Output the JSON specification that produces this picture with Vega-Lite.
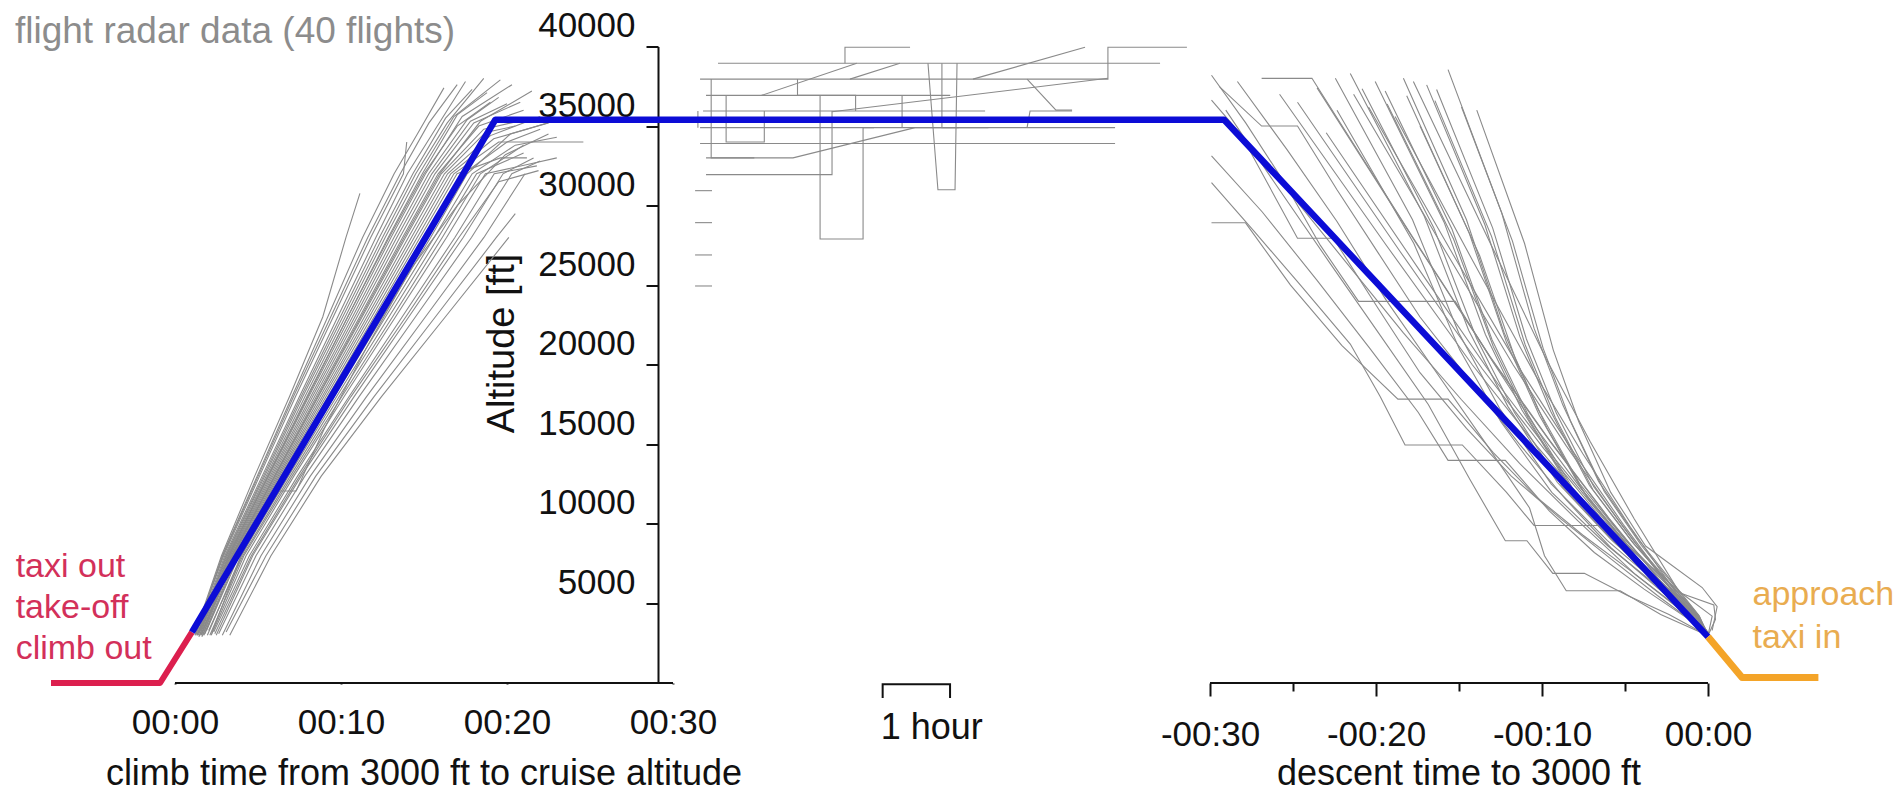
{
"$schema": "https://vega.github.io/schema/vega-lite/v6.json",
"width": 1901, "height": 636.5,
"autosize": {"type": "none"},
"padding": {"left": 0, "right": 0, "top": 46.5, "bottom": 110},
"background": "white",
"config": {"view": {"stroke": null}, "font": "Liberation Sans", "text": {"font": "Liberation Sans"}, "axis": {"labelFont": "Liberation Sans", "titleFont": "Liberation Sans"}},
"datasets": {
"flights": [
{"f":"c1","t":1.2,"a":3000},{"f":"c1","t":2.88,"a":8000},{"f":"c1","t":5.01,"a":13000},{"f":"c1","t":7.14,"a":18000},{"f":"c1","t":9.38,"a":23000},{"f":"c1","t":11.61,"a":28000},{"f":"c1","t":13.57,"a":32000},{"f":"c1","t":15.3,"a":35200},{"f":"c1","t":17.0,"a":37600},
{"f":"c2","t":1.23,"a":3200},{"f":"c2","t":2.93,"a":8000},{"f":"c2","t":5.09,"a":13000},{"f":"c2","t":7.26,"a":18000},{"f":"c2","t":9.53,"a":23000},{"f":"c2","t":11.79,"a":28000},{"f":"c2","t":13.76,"a":32000},{"f":"c2","t":13.96,"a":34000},
{"f":"c3","t":1.26,"a":3300},{"f":"c3","t":2.8,"a":8000},{"f":"c3","t":4.8,"a":13000},{"f":"c3","t":6.9,"a":18000},{"f":"c3","t":8.9,"a":23000},{"f":"c3","t":10.3,"a":28000},{"f":"c3","t":11.14,"a":30770},
{"f":"c4","t":1.32,"a":3000},{"f":"c4","t":3.06,"a":8000},{"f":"c4","t":5.33,"a":13000},{"f":"c4","t":7.6,"a":18000},{"f":"c4","t":9.96,"a":23000},{"f":"c4","t":12.31,"a":28000},{"f":"c4","t":14.33,"a":32000},{"f":"c4","t":16.3,"a":35500},{"f":"c4","t":17.9,"a":37300},
{"f":"c5","t":1.38,"a":3100},{"f":"c5","t":3.15,"a":8000},{"f":"c5","t":5.49,"a":13000},{"f":"c5","t":7.83,"a":18000},{"f":"c5","t":10.25,"a":23000},{"f":"c5","t":12.66,"a":28000},{"f":"c5","t":14.71,"a":32000},{"f":"c5","t":16.8,"a":35600},{"f":"c5","t":19.6,"a":37900},
{"f":"c6","t":1.44,"a":2900},{"f":"c6","t":3.24,"a":8000},{"f":"c6","t":5.65,"a":13000},{"f":"c6","t":8.06,"a":18000},{"f":"c6","t":10.54,"a":23000},{"f":"c6","t":13.01,"a":28000},{"f":"c6","t":15.09,"a":32000},{"f":"c6","t":17.3,"a":35600},{"f":"c6","t":20.3,"a":37600},
{"f":"c7","t":1.47,"a":3200},{"f":"c7","t":3.29,"a":8000},{"f":"c7","t":5.73,"a":13000},{"f":"c7","t":8.18,"a":18000},{"f":"c7","t":10.69,"a":23000},{"f":"c7","t":13.19,"a":28000},{"f":"c7","t":15.28,"a":32000},{"f":"c7","t":17.6,"a":35400},{"f":"c7","t":19.5,"a":36800},
{"f":"c8","t":1.5,"a":3000},{"f":"c8","t":3.33,"a":8000},{"f":"c8","t":5.81,"a":13000},{"f":"c8","t":8.29,"a":18000},{"f":"c8","t":10.83,"a":23000},{"f":"c8","t":13.36,"a":28000},{"f":"c8","t":15.47,"a":32000},{"f":"c8","t":17.8,"a":35300},{"f":"c8","t":20.0,"a":36400},
{"f":"c9","t":1.53,"a":3300},{"f":"c9","t":3.38,"a":8000},{"f":"c9","t":5.89,"a":13000},{"f":"c9","t":8.41,"a":18000},{"f":"c9","t":10.97,"a":23000},{"f":"c9","t":13.54,"a":28000},{"f":"c9","t":15.66,"a":32000},{"f":"c9","t":18.0,"a":35200},{"f":"c9","t":20.8,"a":36500},
{"f":"c10","t":1.56,"a":3000},{"f":"c10","t":3.42,"a":8000},{"f":"c10","t":5.97,"a":13000},{"f":"c10","t":8.52,"a":18000},{"f":"c10","t":11.12,"a":23000},{"f":"c10","t":13.71,"a":28000},{"f":"c10","t":15.85,"a":32000},{"f":"c10","t":18.3,"a":35000},{"f":"c10","t":21.0,"a":36000},
{"f":"c11","t":1.59,"a":3100},{"f":"c11","t":3.47,"a":8000},{"f":"c11","t":6.05,"a":13000},{"f":"c11","t":8.64,"a":18000},{"f":"c11","t":11.27,"a":23000},{"f":"c11","t":13.89,"a":28000},{"f":"c11","t":16.04,"a":32000},{"f":"c11","t":18.6,"a":34800},{"f":"c11","t":21.5,"a":35500},
{"f":"c12","t":1.62,"a":2900},{"f":"c12","t":3.51,"a":8000},{"f":"c12","t":6.13,"a":13000},{"f":"c12","t":8.75,"a":18000},{"f":"c12","t":11.41,"a":23000},{"f":"c12","t":14.06,"a":28000},{"f":"c12","t":16.23,"a":32000},{"f":"c12","t":18.7,"a":34600},{"f":"c12","t":20.5,"a":35000},
{"f":"c13","t":1.65,"a":3200},{"f":"c13","t":3.56,"a":8000},{"f":"c13","t":6.21,"a":13000},{"f":"c13","t":8.87,"a":18000},{"f":"c13","t":11.56,"a":23000},{"f":"c13","t":14.24,"a":28000},{"f":"c13","t":16.42,"a":32000},{"f":"c13","t":19.0,"a":34400},{"f":"c13","t":22.0,"a":35600},
{"f":"c14","t":1.68,"a":3000},{"f":"c14","t":3.6,"a":8000},{"f":"c14","t":6.29,"a":13000},{"f":"c14","t":8.98,"a":18000},{"f":"c14","t":11.7,"a":23000},{"f":"c14","t":14.41,"a":28000},{"f":"c14","t":16.61,"a":32000},{"f":"c14","t":19.2,"a":34200},{"f":"c14","t":22.5,"a":35200},
{"f":"c15","t":1.71,"a":3400},{"f":"c15","t":3.65,"a":8000},{"f":"c15","t":6.37,"a":13000},{"f":"c15","t":9.1,"a":18000},{"f":"c15","t":11.85,"a":23000},{"f":"c15","t":14.59,"a":28000},{"f":"c15","t":16.8,"a":32000},{"f":"c15","t":19.5,"a":34000},{"f":"c15","t":24.6,"a":34000},
{"f":"c16","t":1.74,"a":3000},{"f":"c16","t":3.69,"a":8000},{"f":"c16","t":6.45,"a":13000},{"f":"c16","t":9.21,"a":18000},{"f":"c16","t":11.99,"a":23000},{"f":"c16","t":14.76,"a":28000},{"f":"c16","t":16.99,"a":32000},{"f":"c16","t":19.6,"a":33000},{"f":"c16","t":21.2,"a":33000},
{"f":"c17","t":1.8,"a":3100},{"f":"c17","t":3.78,"a":8000},{"f":"c17","t":6.61,"a":13000},{"f":"c17","t":9.44,"a":18000},{"f":"c17","t":12.28,"a":23000},{"f":"c17","t":15.11,"a":28000},{"f":"c17","t":17.37,"a":32000},{"f":"c17","t":20.0,"a":34000},{"f":"c17","t":22.0,"a":34800},
{"f":"c18","t":1.95,"a":3000},{"f":"c18","t":3.98,"a":8000},{"f":"c18","t":6.83,"a":13000},{"f":"c18","t":9.74,"a":18000},{"f":"c18","t":12.68,"a":23000},{"f":"c18","t":15.61,"a":28000},{"f":"c18","t":17.9,"a":32000},{"f":"c18","t":20.5,"a":33800},{"f":"c18","t":23.0,"a":34300},
{"f":"c19","t":2.03,"a":3300},{"f":"c19","t":4.08,"a":8000},{"f":"c19","t":6.94,"a":13000},{"f":"c19","t":9.89,"a":18000},{"f":"c19","t":12.88,"a":23000},{"f":"c19","t":15.86,"a":28000},{"f":"c19","t":18.17,"a":32000},{"f":"c19","t":21.0,"a":33300},
{"f":"c20","t":2.18,"a":3000},{"f":"c20","t":4.28,"a":8000},{"f":"c20","t":7.16,"a":13000},{"f":"c20","t":10.19,"a":18000},{"f":"c20","t":13.28,"a":23000},{"f":"c20","t":16.36,"a":28000},{"f":"c20","t":18.7,"a":32000},{"f":"c20","t":21.3,"a":32600},{"f":"c20","t":23.0,"a":33000},
{"f":"c21","t":2.33,"a":3200},{"f":"c21","t":4.48,"a":8000},{"f":"c21","t":7.38,"a":13000},{"f":"c21","t":10.49,"a":18000},{"f":"c21","t":13.68,"a":23000},{"f":"c21","t":16.86,"a":28000},{"f":"c21","t":19.23,"a":32000},{"f":"c21","t":21.8,"a":32500},
{"f":"c22","t":2.48,"a":3000},{"f":"c22","t":4.68,"a":8000},{"f":"c22","t":7.6,"a":13000},{"f":"c22","t":10.79,"a":18000},{"f":"c22","t":14.08,"a":23000},{"f":"c22","t":17.36,"a":28000},{"f":"c22","t":19.76,"a":32000},{"f":"c22","t":21.6,"a":33000},
{"f":"c23","t":2.63,"a":3100},{"f":"c23","t":4.88,"a":8000},{"f":"c23","t":7.82,"a":13000},{"f":"c23","t":11.09,"a":18000},{"f":"c23","t":14.48,"a":23000},{"f":"c23","t":17.86,"a":28000},{"f":"c23","t":20.29,"a":32000},{"f":"c23","t":22.0,"a":32800},
{"f":"c24","t":2.85,"a":3000},{"f":"c24","t":5.18,"a":8000},{"f":"c24","t":8.15,"a":13000},{"f":"c24","t":11.54,"a":18000},{"f":"c24","t":15.08,"a":23000},{"f":"c24","t":18.61,"a":28000},{"f":"c24","t":21.08,"a":32000},
{"f":"c25","t":3.08,"a":3200},{"f":"c25","t":5.48,"a":8000},{"f":"c25","t":8.48,"a":13000},{"f":"c25","t":11.99,"a":18000},{"f":"c25","t":15.68,"a":23000},{"f":"c25","t":19.36,"a":28000},{"f":"c25","t":20.5,"a":29500},
{"f":"c26","t":3.3,"a":3000},{"f":"c26","t":5.78,"a":8000},{"f":"c26","t":8.81,"a":13000},{"f":"c26","t":12.44,"a":18000},{"f":"c26","t":16.28,"a":23000},{"f":"c26","t":20.11,"a":28000},
{"f":"c27","t":2.2,"a":3100},{"f":"c27","t":4.0,"a":8000},{"f":"c27","t":5.6,"a":11000},{"f":"c27","t":6.3,"a":12066},{"f":"c27","t":7.3,"a":12066},{"f":"c27","t":9.0,"a":16000},{"f":"c27","t":11.5,"a":21000},{"f":"c27","t":14.2,"a":26000},{"f":"c27","t":17.0,"a":30000},{"f":"c27","t":19.9,"a":33200},{"f":"c27","t":22.5,"a":34500},
{"f":"c28","t":1.41,"a":3000},{"f":"c28","t":3.2,"a":8000},{"f":"c28","t":5.57,"a":13000},{"f":"c28","t":7.95,"a":18000},{"f":"c28","t":10.4,"a":23000},{"f":"c28","t":12.84,"a":28000},{"f":"c28","t":14.9,"a":32000},{"f":"c28","t":17.0,"a":35700},{"f":"c28","t":18.8,"a":37100},
{"f":"c29","t":1.29,"a":3100},{"f":"c29","t":3.0,"a":8000},{"f":"c29","t":5.25,"a":13000},{"f":"c29","t":7.5,"a":18000},{"f":"c29","t":9.8,"a":23000},{"f":"c29","t":12.1,"a":28000},{"f":"c29","t":14.0,"a":32000},{"f":"c29","t":15.8,"a":35000},{"f":"c29","t":17.5,"a":37800},
{"f":"c30","t":1.35,"a":3000},{"f":"c30","t":3.1,"a":8000},{"f":"c30","t":5.4,"a":13000},{"f":"c30","t":7.7,"a":18000},{"f":"c30","t":10.1,"a":23000},{"f":"c30","t":12.5,"a":28000},{"f":"c30","t":14.5,"a":32000},{"f":"c30","t":16.4,"a":35200},{"f":"c30","t":18.6,"a":38000},
{"f":"c31","t":1.45,"a":3200},{"f":"c31","t":3.25,"a":8000},{"f":"c31","t":5.6,"a":13000},{"f":"c31","t":8.0,"a":18000},{"f":"c31","t":10.4,"a":23000},{"f":"c31","t":12.9,"a":28000},{"f":"c31","t":15.0,"a":32000},{"f":"c31","t":17.0,"a":35000},{"f":"c31","t":19.0,"a":36500},
{"f":"c32","t":1.6,"a":3000},{"f":"c32","t":3.45,"a":8000},{"f":"c32","t":6.0,"a":13000},{"f":"c32","t":8.6,"a":18000},{"f":"c32","t":11.2,"a":23000},{"f":"c32","t":13.8,"a":28000},{"f":"c32","t":15.95,"a":32000},{"f":"c32","t":18.4,"a":35300},{"f":"c32","t":21.5,"a":37200},
{"f":"c33","t":1.9,"a":3300},{"f":"c33","t":3.85,"a":8000},{"f":"c33","t":6.7,"a":13000},{"f":"c33","t":9.6,"a":18000},{"f":"c33","t":12.5,"a":23000},{"f":"c33","t":15.4,"a":28000},{"f":"c33","t":17.6,"a":32000},{"f":"c33","t":20.2,"a":34500},{"f":"c33","t":22.8,"a":35300},
{"f":"c34","t":2.1,"a":3000},{"f":"c34","t":4.15,"a":8000},{"f":"c34","t":7.05,"a":13000},{"f":"c34","t":10.05,"a":18000},{"f":"c34","t":13.1,"a":23000},{"f":"c34","t":16.1,"a":28000},{"f":"c34","t":18.4,"a":32000},{"f":"c34","t":21.0,"a":33800},
{"f":"c35","t":2.4,"a":3100},{"f":"c35","t":4.6,"a":8000},{"f":"c35","t":7.5,"a":13000},{"f":"c35","t":10.6,"a":18000},{"f":"c35","t":13.9,"a":23000},{"f":"c35","t":17.1,"a":28000},{"f":"c35","t":19.5,"a":31500},{"f":"c35","t":21.9,"a":32200},
{"f":"c36","t":1.25,"a":3000},{"f":"c36","t":2.85,"a":8000},{"f":"c36","t":4.95,"a":13000},{"f":"c36","t":7.05,"a":18000},{"f":"c36","t":9.2,"a":23000},{"f":"c36","t":11.3,"a":28000},{"f":"c36","t":13.2,"a":32000},{"f":"c36","t":14.6,"a":34500},{"f":"c36","t":16.2,"a":37400},
{"f":"k1","t":40.36,"a":38950},{"f":"k1","t":40.36,"a":39950},{"f":"k1","t":44.28,"a":39950},
{"f":"k2","t":32.71,"a":38950},{"f":"k2","t":59.34,"a":38950},
{"f":"k3","t":31.63,"a":37950},{"f":"k3","t":56.2,"a":37950},{"f":"k3","t":56.2,"a":39950},{"f":"k3","t":60.96,"a":39950},
{"f":"k4","t":35.34,"a":36930},{"f":"k4","t":41.07,"a":38950},
{"f":"k5","t":40.66,"a":37950},{"f":"k5","t":43.67,"a":38950},
{"f":"k6","t":48.07,"a":37950},{"f":"k6","t":54.82,"a":39950},
{"f":"k7","t":31.81,"a":35950},{"f":"k7","t":48.8,"a":35950},
{"f":"k8","t":51.33,"a":34900},{"f":"k8","t":51.51,"a":35950},{"f":"k8","t":54.04,"a":35950},
{"f":"k9","t":31.63,"a":34900},{"f":"k9","t":56.63,"a":34900},
{"f":"k10","t":31.63,"a":33900},{"f":"k10","t":56.63,"a":33900},
{"f":"k11","t":31.99,"a":33000},{"f":"k11","t":37.23,"a":33000},{"f":"k11","t":44.58,"a":34900},{"f":"k11","t":49.0,"a":34900},
{"f":"k12","t":31.99,"a":31950},{"f":"k12","t":39.58,"a":31950},{"f":"k12","t":39.58,"a":35950},
{"f":"k13","t":38.86,"a":36930},{"f":"k13","t":38.86,"a":27900},{"f":"k13","t":41.45,"a":27900},{"f":"k13","t":41.45,"a":34900},{"f":"k13","t":42.11,"a":34900},
{"f":"k14","t":45.36,"a":38950},{"f":"k14","t":45.96,"a":31000},{"f":"k14","t":46.99,"a":31000},{"f":"k14","t":47.11,"a":38950},
{"f":"k15","t":39.58,"a":35900},{"f":"k15","t":56.2,"a":38000},
{"f":"k16","t":51.33,"a":37950},{"f":"k16","t":53.07,"a":36000},{"f":"k16","t":54.04,"a":36000},
{"f":"k17","t":32.3,"a":37950},{"f":"k17","t":32.3,"a":33000},{"f":"k17","t":34.9,"a":33000},
{"f":"k18","t":31.5,"a":35950},{"f":"k18","t":31.5,"a":34900},
{"f":"k19","t":33.2,"a":36930},{"f":"k19","t":33.2,"a":34000},{"f":"k19","t":35.5,"a":34000},{"f":"k19","t":35.5,"a":35950},
{"f":"k20","t":37.5,"a":37950},{"f":"k20","t":37.5,"a":36930},{"f":"k20","t":41.0,"a":36930},{"f":"k20","t":41.0,"a":35950},
{"f":"k21","t":43.8,"a":36930},{"f":"k21","t":43.8,"a":34900},
{"f":"k22","t":46.2,"a":38950},{"f":"k22","t":46.2,"a":34900},{"f":"k22","t":47.2,"a":34900},
{"f":"k23","t":31.99,"a":36930},{"f":"k23","t":46.7,"a":36930},
{"f":"k24","t":31.33,"a":30940},{"f":"k24","t":32.35,"a":30940},
{"f":"k25","t":31.33,"a":28930},{"f":"k25","t":32.35,"a":28930},
{"f":"k26","t":31.33,"a":26900},{"f":"k26","t":32.35,"a":26900},
{"f":"k27","t":31.33,"a":24950},{"f":"k27","t":32.35,"a":24950},
{"f":"d1","t":76.69,"a":38550},{"f":"d1","t":79.93,"a":29520},{"f":"d1","t":81.87,"a":22300},{"f":"d1","t":83.6,"a":17480},{"f":"d1","t":85.76,"a":12660},{"f":"d1","t":88.13,"a":9050},{"f":"d1","t":91.81,"a":4240},{"f":"d1","t":92.35,"a":3000},
{"f":"d2","t":75.4,"a":37590},{"f":"d2","t":78.91,"a":28800},{"f":"d2","t":81.01,"a":21780},{"f":"d2","t":82.87,"a":17080},{"f":"d2","t":85.21,"a":12410},{"f":"d2","t":87.77,"a":8880},{"f":"d2","t":91.77,"a":4210},{"f":"d2","t":92.3,"a":3100},
{"f":"d3","t":73.02,"a":36380},{"f":"d3","t":77.02,"a":27900},{"f":"d3","t":79.42,"a":21130},{"f":"d3","t":81.54,"a":16590},{"f":"d3","t":84.21,"a":12080},{"f":"d3","t":87.13,"a":8670},{"f":"d3","t":91.69,"a":4170},{"f":"d3","t":92.35,"a":3000},
{"f":"d4","t":71.51,"a":37350},{"f":"d4","t":75.82,"a":28630},{"f":"d4","t":78.41,"a":21650},{"f":"d4","t":80.7,"a":16980},{"f":"d4","t":83.58,"a":12340},{"f":"d4","t":86.72,"a":8840},{"f":"d4","t":91.64,"a":4200},{"f":"d4","t":92.3,"a":3200},
{"f":"d5","t":74.2,"a":36900},{"f":"d5","t":77.96,"a":28290},{"f":"d5","t":80.21,"a":21410},{"f":"d5","t":82.2,"a":16800},{"f":"d5","t":84.71,"a":12220},{"f":"d5","t":87.45,"a":8760},{"f":"d5","t":91.73,"a":4190},{"f":"d5","t":92.35,"a":3100},
{"f":"d6","t":72.3,"a":37800},{"f":"d6","t":76.45,"a":28960},{"f":"d6","t":78.94,"a":21900},{"f":"d6","t":81.14,"a":17160},{"f":"d6","t":83.91,"a":12470},{"f":"d6","t":86.94,"a":8920},{"f":"d6","t":91.67,"a":4220},{"f":"d6","t":92.3,"a":3000},
{"f":"d7","t":70.0,"a":36000},{"f":"d7","t":74.63,"a":27620},{"f":"d7","t":77.4,"a":20920},{"f":"d7","t":79.86,"a":16430},{"f":"d7","t":82.94,"a":11980},{"f":"d7","t":86.32,"a":8610},{"f":"d7","t":91.59,"a":4160},{"f":"d7","t":92.35,"a":3100},
{"f":"d8","t":69.35,"a":34580},{"f":"d8","t":75.1,"a":25740},{"f":"d8","t":79.7,"a":18790},{"f":"d8","t":83.15,"a":14050},{"f":"d8","t":86.6,"a":9630},{"f":"d8","t":90.05,"a":5530},{"f":"d8","t":92.35,"a":3000},
{"f":"d9","t":71.0,"a":37000},{"f":"d9","t":76.34,"a":27480},{"f":"d9","t":80.61,"a":20000},{"f":"d9","t":83.81,"a":14900},{"f":"d9","t":87.01,"a":10140},{"f":"d9","t":90.22,"a":5720},{"f":"d9","t":92.3,"a":3100},
{"f":"d10","t":73.5,"a":35600},{"f":"d10","t":78.21,"a":26470},{"f":"d10","t":81.98,"a":19300},{"f":"d10","t":84.81,"a":14410},{"f":"d10","t":87.64,"a":9850},{"f":"d10","t":90.47,"a":5610},{"f":"d10","t":92.35,"a":3200},
{"f":"d11","t":67.62,"a":36500},{"f":"d11","t":73.8,"a":27120},{"f":"d11","t":78.75,"a":19750},{"f":"d11","t":82.46,"a":14730},{"f":"d11","t":86.17,"a":10040},{"f":"d11","t":89.88,"a":5680},{"f":"d11","t":92.3,"a":3000},
{"f":"d12","t":66.54,"a":37000},{"f":"d12","t":72.99,"a":27480},{"f":"d12","t":78.15,"a":20000},{"f":"d12","t":82.03,"a":14900},{"f":"d12","t":85.9,"a":10140},{"f":"d12","t":89.77,"a":5720},{"f":"d12","t":92.35,"a":3100},
{"f":"d13","t":65.46,"a":38000},{"f":"d13","t":68.49,"a":38000},{"f":"d13","t":74.45,"a":28200},{"f":"d13","t":79.23,"a":20500},{"f":"d13","t":82.81,"a":15250},{"f":"d13","t":86.39,"a":10350},{"f":"d13","t":89.96,"a":5800},{"f":"d13","t":92.3,"a":3000},
{"f":"d14","t":77.5,"a":36200},{"f":"d14","t":80.57,"a":27770},{"f":"d14","t":82.42,"a":21030},{"f":"d14","t":84.05,"a":16510},{"f":"d14","t":86.1,"a":12030},{"f":"d14","t":88.34,"a":8640},{"f":"d14","t":91.84,"a":4160},{"f":"d14","t":92.35,"a":3000},
{"f":"d15","t":75.0,"a":35000},{"f":"d15","t":78.59,"a":26870},{"f":"d15","t":80.74,"a":20380},{"f":"d15","t":82.65,"a":16020},{"f":"d15","t":85.05,"a":11700},{"f":"d15","t":87.67,"a":8440},{"f":"d15","t":90.8,"a":5600},{"f":"d15","t":92.7,"a":4900},{"f":"d15","t":92.8,"a":4000},{"f":"d15","t":92.4,"a":3100},
{"f":"d16","t":62.44,"a":38190},{"f":"d16","t":64.5,"a":35200},{"f":"d16","t":66.8,"a":31500},{"f":"d16","t":69.0,"a":27500},{"f":"d16","t":71.3,"a":23980},{"f":"d16","t":77.12,"a":23980},{"f":"d16","t":79.5,"a":20000},{"f":"d16","t":82.0,"a":16000},{"f":"d16","t":84.5,"a":12500},{"f":"d16","t":87.0,"a":9200},{"f":"d16","t":89.5,"a":6200},{"f":"d16","t":91.4,"a":4200},{"f":"d16","t":92.3,"a":3100},
{"f":"d17","t":62.44,"a":36630},{"f":"d17","t":64.2,"a":34500},{"f":"d17","t":67.62,"a":27950},{"f":"d17","t":69.78,"a":27950},{"f":"d17","t":72.5,"a":23500},{"f":"d17","t":75.0,"a":19500},{"f":"d17","t":77.8,"a":16000},{"f":"d17","t":80.5,"a":13000},{"f":"d17","t":83.5,"a":10300},{"f":"d17","t":86.5,"a":7800},{"f":"d17","t":89.3,"a":5500},{"f":"d17","t":91.5,"a":3800},{"f":"d17","t":92.3,"a":3100},
{"f":"d18","t":62.44,"a":28920},{"f":"d18","t":64.49,"a":28920},{"f":"d18","t":67.2,"a":25000},{"f":"d18","t":70.3,"a":21200},{"f":"d18","t":73.67,"a":17840},{"f":"d18","t":76.69,"a":17840},{"f":"d18","t":79.4,"a":14500},{"f":"d18","t":82.0,"a":11700},{"f":"d18","t":84.8,"a":9300},{"f":"d18","t":87.5,"a":7200},{"f":"d18","t":90.0,"a":5200},{"f":"d18","t":91.8,"a":3700},{"f":"d18","t":92.3,"a":3100},
{"f":"d19","t":62.44,"a":31450},{"f":"d19","t":65.0,"a":28400},{"f":"d19","t":67.8,"a":25000},{"f":"d19","t":70.8,"a":21300},{"f":"d19","t":72.6,"a":18000},{"f":"d19","t":74.1,"a":14960},{"f":"d19","t":77.55,"a":14960},{"f":"d19","t":80.2,"a":12000},{"f":"d19","t":81.87,"a":9900},{"f":"d19","t":85.76,"a":9900},{"f":"d19","t":88.3,"a":7200},{"f":"d19","t":90.6,"a":5000},{"f":"d19","t":92.2,"a":3300},
{"f":"d20","t":62.44,"a":33130},{"f":"d20","t":65.5,"a":29600},{"f":"d20","t":68.8,"a":25300},{"f":"d20","t":72.0,"a":21000},{"f":"d20","t":74.9,"a":17000},{"f":"d20","t":76.69,"a":13990},{"f":"d20","t":80.14,"a":13990},{"f":"d20","t":82.8,"a":10800},{"f":"d20","t":85.5,"a":8200},{"f":"d20","t":88.5,"a":5900},{"f":"d20","t":91.2,"a":4000},{"f":"d20","t":92.3,"a":3100},
{"f":"d21","t":63.3,"a":36000},{"f":"d21","t":66.2,"a":31500},{"f":"d21","t":69.5,"a":26500},{"f":"d21","t":72.5,"a":22000},{"f":"d21","t":75.5,"a":17500},{"f":"d21","t":78.0,"a":12800},{"f":"d21","t":80.14,"a":8940},{"f":"d21","t":81.44,"a":8940},{"f":"d21","t":83.0,"a":6890},{"f":"d21","t":84.9,"a":6890},{"f":"d21","t":87.5,"a":5500},{"f":"d21","t":90.0,"a":4300},{"f":"d21","t":92.3,"a":3000},
{"f":"d22","t":62.9,"a":37500},{"f":"d22","t":65.46,"a":35000},{"f":"d22","t":67.62,"a":35000},{"f":"d22","t":70.0,"a":31000},{"f":"d22","t":72.5,"a":27000},{"f":"d22","t":75.0,"a":23000},{"f":"d22","t":78.0,"a":19000},{"f":"d22","t":81.0,"a":15000},{"f":"d22","t":83.81,"a":11500},{"f":"d22","t":86.5,"a":8500},{"f":"d22","t":89.5,"a":5800},{"f":"d22","t":91.8,"a":3700},{"f":"d22","t":92.3,"a":3000},
{"f":"d23","t":64.0,"a":37800},{"f":"d23","t":67.0,"a":33500},{"f":"d23","t":70.0,"a":29000},{"f":"d23","t":73.0,"a":24000},{"f":"d23","t":76.0,"a":19500},{"f":"d23","t":79.0,"a":15000},{"f":"d23","t":81.6,"a":11000},{"f":"d23","t":82.5,"a":8000},{"f":"d23","t":83.81,"a":5800},{"f":"d23","t":87.06,"a":5800},{"f":"d23","t":89.5,"a":4300},{"f":"d23","t":92.3,"a":3000},
{"f":"d24","t":63.5,"a":35100},{"f":"d24","t":67.0,"a":31000},{"f":"d24","t":70.5,"a":26500},{"f":"d24","t":74.0,"a":22000},{"f":"d24","t":77.5,"a":17800},{"f":"d24","t":81.0,"a":13800},{"f":"d24","t":84.5,"a":10200},{"f":"d24","t":88.0,"a":6800},{"f":"d24","t":90.8,"a":4500},{"f":"d24","t":92.3,"a":3100},
{"f":"d25","t":78.42,"a":36000},{"f":"d25","t":81.3,"a":27620},{"f":"d25","t":83.03,"a":20920},{"f":"d25","t":84.56,"a":16430},{"f":"d25","t":86.49,"a":11980},{"f":"d25","t":88.59,"a":8610},{"f":"d25","t":92.0,"a":6000},{"f":"d25","t":92.9,"a":4800},{"f":"d25","t":92.6,"a":3300},
{"f":"d26","t":74.6,"a":37800},{"f":"d26","t":79.04,"a":28060},{"f":"d26","t":82.59,"a":20400},{"f":"d26","t":85.25,"a":15180},{"f":"d26","t":87.91,"a":10310},{"f":"d26","t":90.58,"a":5780},{"f":"d26","t":92.6,"a":4200},{"f":"d26","t":92.35,"a":3000},
{"f":"d27","t":70.8,"a":38300},{"f":"d27","t":75.26,"a":29330},{"f":"d27","t":77.93,"a":22170},{"f":"d27","t":80.3,"a":17370},{"f":"d27","t":83.28,"a":12600},{"f":"d27","t":86.53,"a":9000},{"f":"d27","t":91.62,"a":4240},{"f":"d27","t":92.3,"a":3100},
{"f":"d28","t":72.9,"a":37200},{"f":"d28","t":76.93,"a":28510},{"f":"d28","t":79.34,"a":21570},{"f":"d28","t":81.48,"a":16920},{"f":"d28","t":84.16,"a":12300},{"f":"d28","t":87.1,"a":8810},{"f":"d28","t":91.69,"a":4200},{"f":"d28","t":92.35,"a":3000},
{"f":"d29","t":74.0,"a":38000},{"f":"d29","t":77.8,"a":29110},{"f":"d29","t":80.07,"a":22010},{"f":"d29","t":82.09,"a":17250},{"f":"d29","t":84.62,"a":12520},{"f":"d29","t":87.4,"a":8950},{"f":"d29","t":91.73,"a":4230},{"f":"d29","t":92.3,"a":3200},
{"f":"d30","t":75.9,"a":36600},{"f":"d30","t":79.31,"a":28070},{"f":"d30","t":81.34,"a":21240},{"f":"d30","t":83.15,"a":16680},{"f":"d30","t":85.42,"a":12140},{"f":"d30","t":87.91,"a":8710},{"f":"d30","t":91.79,"a":4180},{"f":"d30","t":92.35,"a":3100},
{"f":"d31","t":68.8,"a":37400},{"f":"d31","t":74.69,"a":27770},{"f":"d31","t":79.4,"a":20200},{"f":"d31","t":82.93,"a":15040},{"f":"d31","t":86.46,"a":10220},{"f":"d31","t":89.99,"a":5750},{"f":"d31","t":92.3,"a":3000},
{"f":"d32","t":71.9,"a":36200},{"f":"d32","t":77.01,"a":26900},{"f":"d32","t":81.1,"a":19600},{"f":"d32","t":84.17,"a":14620},{"f":"d32","t":87.24,"a":9970},{"f":"d32","t":90.31,"a":5660},{"f":"d32","t":92.35,"a":3100},
{"f":"d33","t":76.0,"a":37300},{"f":"d33","t":79.38,"a":28590},{"f":"d33","t":81.41,"a":21620},{"f":"d33","t":83.21,"a":16960},{"f":"d33","t":85.47,"a":12330},{"f":"d33","t":87.94,"a":8830},{"f":"d33","t":91.79,"a":4200},{"f":"d33","t":92.3,"a":3000},
{"f":"d34","t":69.9,"a":38000},{"f":"d34","t":74.55,"a":29110},{"f":"d34","t":77.33,"a":22010},{"f":"d34","t":79.8,"a":17250},{"f":"d34","t":82.9,"a":12520},{"f":"d34","t":86.29,"a":8950},{"f":"d34","t":91.58,"a":4230},{"f":"d34","t":92.35,"a":3100}
],
"model": [
{"s":"taxi","t":-7.47,"a":0},{"s":"taxi","t":-0.9,"a":0},{"s":"taxi","t":1.02,"a":3200},
{"s":"model","t":1.02,"a":3200},{"s":"model","t":19.3,"a":35400},{"s":"model","t":63.2,"a":35400},{"s":"model","t":92.35,"a":2900},
{"s":"appr","t":92.35,"a":2900},{"s":"appr","t":94.4,"a":350},{"s":"appr","t":99.0,"a":350}
]
},
"encoding": {
"x": {"field": "t", "type": "quantitative",
 "scale": {"domain": [-10.5422, 103.976], "nice": false, "zero": false},
 "axis": {
  "values": [0,5,10,15,20,25,30,62.35,67.35,72.35,77.35,82.35,87.35,92.35],
  "labelExpr": "datum.value <= 40 ? (datum.value % 10 == 0 ? '00:' + (datum.value < 10 ? '0' : '') + datum.value : '') : (round(datum.value - 92.35) % 10 == 0 ? (round(datum.value - 92.35) == 0 ? '00:00' : '-00:' + round(92.35 - datum.value)) : '')",
  "domain": false, "grid": false, "title": null,
  "tickSize": {"condition": {"test": "datum.value <= 40 ? datum.value % 10 == 0 : round(datum.value - 92.35) % 10 == 0", "value": 13}, "value": 8},
  "tickWidth": 2, "tickColor": "#111",
  "labelFontSize": 35, "labelColor": "#111", "labelPadding": 49, "labelBaseline": "alphabetic", "labelAlign": "center",
  "labelFlush": false, "labelOverlap": false, "labelBound": false
 }},
"y": {"field": "a", "type": "quantitative",
 "scale": {"domain": [0, 40000], "nice": false},
 "axis": {
  "values": [5000,10000,15000,20000,25000,30000,35000,40000],
  "format": "d", "offset": -658, "grid": false,
  "domain": true, "domainColor": "#111", "domainWidth": 2,
  "tickSize": 12, "tickWidth": 2, "tickColor": "#111",
  "labelFontSize": 35, "labelColor": "#111", "labelPadding": 11, "labelOffset": -10, "labelBaseline": "alphabetic", "labelAlign": "right",
  "labelFlush": false, "labelOverlap": false, "labelBound": false,
  "title": "Altitude [ft]", "titleFontSize": 38, "titleFontWeight": "normal", "titleColor": "#111",
  "titleX": -145, "titleY": 296.5, "titleAngle": 270, "titleAlign": "center", "titleBaseline": "alphabetic"
 }}
},
"layer": [
{"data": {"name": "flights"}, "mark": {"type": "line", "color": "#8a8a8a", "strokeWidth": 1.1},
 "encoding": {"detail": {"field": "f"}, "order": {"value": null}}},
{"data": {"name": "model"}, "mark": {"type": "line", "strokeJoin": "round"},
 "encoding": {"detail": {"field": "s"}, "order": {"value": null},
  "color": {"field": "s", "type": "nominal", "scale": {"domain": ["taxi","model","appr"], "range": ["#dc1f4e","#0c0cd6","#f4a428"]}, "legend": null},
  "strokeWidth": {"field": "s", "type": "nominal", "scale": {"domain": ["taxi","model","appr"], "range": [6,7,5.5]}, "legend": null}}},
{"data": {"values": [{"t": 0, "t2": 30, "a": 0}, {"t": 62.35, "t2": 92.35, "a": 0}]}, "mark": {"type": "rule", "color": "#111", "strokeWidth": 2},
 "encoding": {"x2": {"field": "t2"}}},
{"data": {"values": [{"t": 42.63, "a": -943}, {"t": 42.63, "a": -82}, {"t": 46.69, "a": -82}, {"t": 46.69, "a": -943}]}, "mark": {"type": "line", "color": "#111", "strokeWidth": 2},
 "encoding": {"order": {"value": null}}},
{"data": {"values": [{"t": -9.64, "a": 40220, "label": "flight radar data (40 flights)"}]}, "mark": {"type": "text", "align": "left", "baseline": "alphabetic", "fontSize": 37, "color": "#8c8c8c"},
 "encoding": {"text": {"field": "label"}}},
{"data": {"values": [{"t": -9.6, "a": 6661, "label": "taxi out\ntake-off\nclimb out"}]}, "mark": {"type": "text", "align": "left", "baseline": "alphabetic", "fontSize": 34, "lineBreak": "\n", "lineHeight": 41, "color": "#d3305a"},
 "encoding": {"text": {"field": "label"}}},
{"data": {"values": [{"t": 95.03, "a": 4902, "label": "approach\ntaxi in"}]}, "mark": {"type": "text", "align": "left", "baseline": "alphabetic", "fontSize": 34, "lineBreak": "\n", "lineHeight": 43, "color": "#e9ac50"},
 "encoding": {"text": {"field": "label"}}},
{"data": {"values": [{"t": 15, "a": -6410, "label": "climb time from 3000 ft to cruise altitude"}, {"t": 77.35, "a": -6410, "label": "descent time to 3000 ft"}]}, "mark": {"type": "text", "align": "center", "baseline": "alphabetic", "fontSize": 36, "color": "#111"},
 "encoding": {"text": {"field": "label"}}},
{"data": {"values": [{"t": 42.51, "a": -3519, "label": "1 hour"}]}, "mark": {"type": "text", "align": "left", "baseline": "alphabetic", "fontSize": 36, "color": "#111"},
 "encoding": {"text": {"field": "label"}}}
]
}
